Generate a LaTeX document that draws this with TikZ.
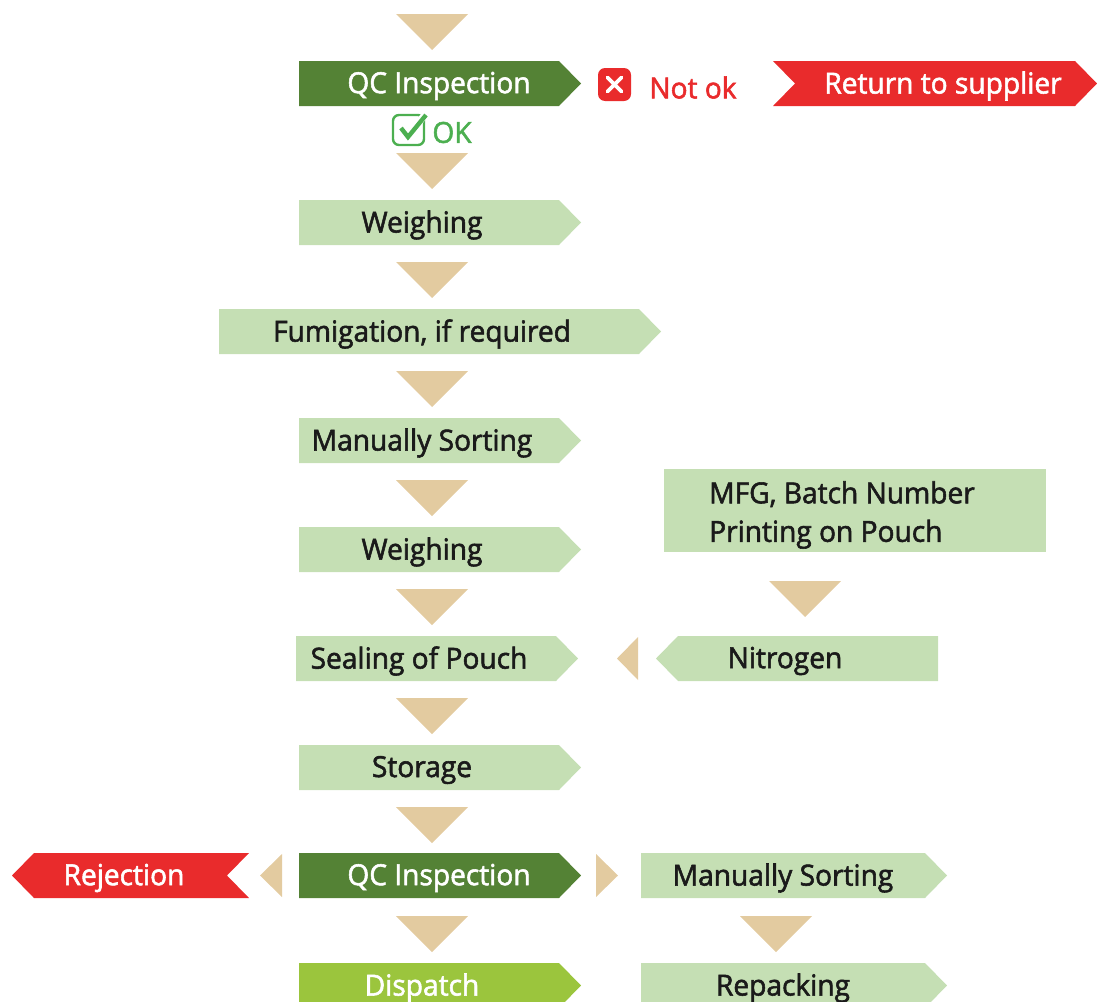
\documentclass[tikz,border=0pt]{standalone}
\usepackage{fontspec}
\setmainfont{Open Sans}
\newfontfamily\labfont[FakeStretch=0.97]{Open Sans}
\definecolor{tan}{HTML}{E3CBA0}
\definecolor{lgreen}{HTML}{C5DFB4}
\definecolor{dgreen}{HTML}{548235}
\definecolor{lime}{HTML}{9BC53D}
\definecolor{cred}{HTML}{E92B2C}
\definecolor{okgreen}{HTML}{4CAF50}
\definecolor{ink}{HTML}{1A1A1A}
% x0, x1, ytop, ybottom, colour
\newcommand{\rarrowbox}[5]{\fill[#5] (#1,#3) -- ({#2-22},#3) -- (#2,{(#3+#4)/2}) -- ({#2-22},#4) -- (#1,#4) -- cycle;}
\newcommand{\larrowbox}[5]{\fill[#5] (#2,#3) -- ({#1+22},#3) -- (#1,{(#3+#4)/2}) -- ({#1+22},#4) -- (#2,#4) -- cycle;}
\newcommand{\downtri}[2]{\fill[tan] (#1,#2) -- ({#1+72},#2) -- ({#1+36},{#2+36}) -- cycle;}
\newcommand{\labsize}{\labfont\fontsize{29}{38.5}\selectfont\special{pdf:code 2 Tr 0.55 w}}
\tikzset{
  darklabel/.style={text=ink,font=\labsize,inner sep=0pt,anchor=center},
  whitelabel/.style={text=white,font=\labsize,inner sep=0pt,anchor=center},
}
\begin{document}
\begin{tikzpicture}[x=1pt,y=-1pt]
\useasboundingbox (0,0) rectangle (1097,1001);
\begin{scope}
\clip (0,0) rectangle (1097,1001);
% down triangles
\downtri{396}{14}\downtri{396}{153}\downtri{396}{262}\downtri{396}{371}\downtri{396}{480}
\downtri{396}{589}\downtri{396}{698}\downtri{396}{807}\downtri{396}{916}
\downtri{769}{581}\downtri{740}{916}
% side triangles
\fill[tan] (638,637) -- (638,680) -- (617,658.5) -- cycle;
\fill[tan] (282,854) -- (282,897) -- (260,875.5) -- cycle;
\fill[tan] (596,854) -- (596,897) -- (618,875.5) -- cycle;
% boxes
\rarrowbox{299}{581}{61}{106}{dgreen}
\rarrowbox{299}{581}{200}{245}{lgreen}
\rarrowbox{219}{661}{309}{354}{lgreen}
\rarrowbox{299}{581}{418}{463}{lgreen}
\rarrowbox{299}{581}{527}{572}{lgreen}
\rarrowbox{296}{578}{636}{681}{lgreen}
\rarrowbox{299}{581}{745}{790}{lgreen}
\rarrowbox{299}{581}{853}{898}{dgreen}
\rarrowbox{299}{581}{963}{1008}{lime}
\rarrowbox{641}{947}{853}{898}{lgreen}
\rarrowbox{641}{947}{963}{1008}{lgreen}
\fill[lgreen] (664,469) rectangle (1046,552);
\larrowbox{656}{938}{636}{681}{lgreen}
% return (notched tail on the left, point on the right)
\fill[cred] (773,61) -- (1075,61) -- (1097,83.5) -- (1075,106) -- (773,106) -- (795,83.5) -- cycle;
% rejection (point left, notched tail right)
\fill[cred] (34,853) -- (249,853) -- (227,875.5) -- (249,898) -- (34,898) -- (12,875.5) -- cycle;
% texts
\node[whitelabel] (qc1) at (439,86) {QC Inspection};
\node[darklabel] (w1) at (422,225) {Weighing};
\node[darklabel] (fum) at (422,334) {Fumigation, if required};
\node[darklabel] (ms1) at (422,443) {Manually Sorting};
\node[darklabel] (w2) at (422,552) {Weighing};
\node[darklabel] (seal) at (419,661) {Sealing of Pouch};
\node[darklabel] (stor) at (422,770) {Storage};
\node[whitelabel] (qc2) at (439,878) {QC Inspection};
\node[whitelabel] (disp) at (422,988) {Dispatch};
\node[darklabel] (ms2) at (783,878) {Manually Sorting};
\node[darklabel] (rep) at (783,988) {Repacking};
\node[darklabel] (nit) at (785,661) {Nitrogen};
\node[darklabel,align=left] (mfg) at (842,515) {MFG, Batch Number\\Printing on Pouch};
\node[whitelabel] (ret) at (943,86) {Return to supplier};
\node[whitelabel] (rej) at (124,878) {Rejection};
% not ok
\fill[cred,rounded corners=7pt] (598,68) rectangle (631,101);
\draw[white,line width=3.6pt,line cap=round] (607.5,77.5) -- (621.5,91.5) (621.5,77.5) -- (607.5,91.5);
\node[text=cred,font=\labsize,inner sep=0pt] (nok) at (693,87.5) {Not ok};
% ok
\draw[okgreen,line width=2.4pt,rounded corners=6pt] (393,115) rectangle (424,145);
\draw[white,line width=7pt] (401,128) -- (408,137) -- (426,113);
\draw[okgreen,line width=4.4pt] (401,128) -- (408,137) -- (426,115);
\node[text=okgreen,font=\labsize,inner sep=0pt] (ok) at (452,132.5) {OK};
\end{scope}
\end{tikzpicture}
\end{document}
